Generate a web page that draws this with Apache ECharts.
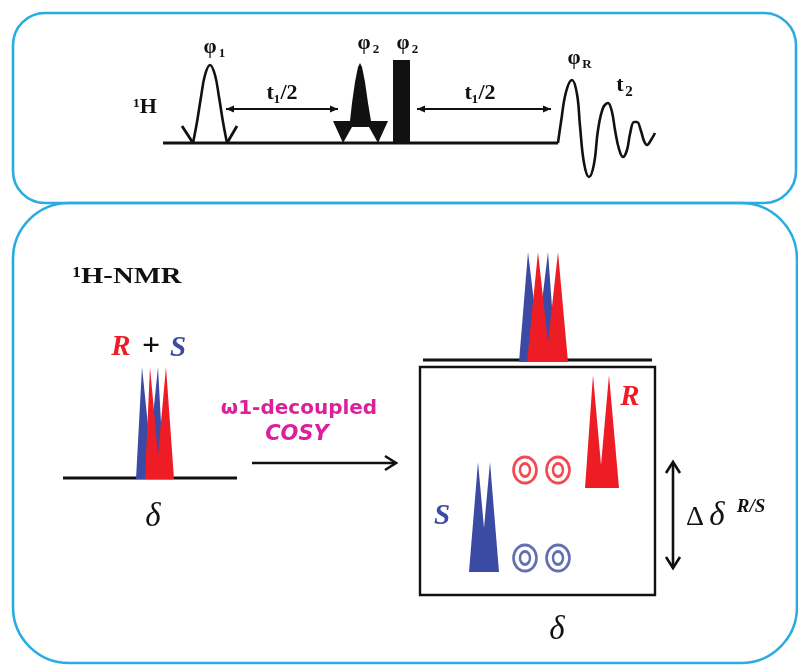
<!DOCTYPE html>
<html><head><meta charset="utf-8">
<script src="https://cdn.jsdelivr.net/npm/echarts@6/dist/echarts.min.js"></script>
<style>html,body{margin:0;padding:0;background:#fff}#c{width:798px;height:666px}</style>
</head><body><div id="c"></div>
<script>
// ---------- data (diagram coordinates, x right, y down) ----------
const panels = [[13,13,796,203,32],[13,203,797,663,56]];
const straightLines = [
  [[163,143],[558,143]],   // pulse sequence baseline
  [[182,126],[193,143]],   // phi1 side lobe left
  [[227,143],[237,126]],   // phi1 side lobe right
  [[63,478],[237,478]],    // 1D spectrum baseline
  [[423,360],[652,360]]    // projection baseline
];
const boxes2D = [[420,367,655,595]];
const pulsePhi1 = [[193,143],[197,122],[201,97],[205,75],[210,65],[215,75],[219,97],[223,122],[227,143]];
const fid = [[558,143],[561,122],[566,92],[572,80],[577,94],[580,126],[584,163],[589,177],[594,164],[598,130],[603,108],[608,103],[612,112],[615,130],[619,149],[623,157],[627,150],[630,134],[634,122],[637,122],[641,131],[644,141],[647,145],[651,140],[655,133]];
const filledShapes = [
  // shaped phi2 pulse
  {c:'#111', p:[[333,121],[350,121],[352,103],[355,82],[358,67],[360,63],[362,67],[365,82],[368,103],[371,121],[388,121],[378,143],[369,127],[352,127],[343,143]]},
  // hard phi2 pulse
  {c:'#111', p:[[393,60],[410,60],[410,143],[393,143]]},
  // 1D spectrum: S then R
  {c:'#3b4ba3', p:[[136,479],[142,367],[150,445],[158,367],[164,479]]},
  {c:'#ee1d25', p:[[145,479],[150,367],[158,455],[166,367],[174,479]]},
  // projection: S then R
  {c:'#3b4ba3', p:[[519,362],[528,252],[538,335],[548,252],[556,362]]},
  {c:'#ee1d25', p:[[527,362],[538,252],[548,343],[558,252],[568,362]]},
  // diagonal peaks
  {c:'#ee1d25', p:[[585,488],[593,375],[601,465],[609,375],[619,488]]},
  {c:'#3b4ba3', p:[[469,572],[478,462],[484,528],[490,462],[499,572]]}
];
const crossPeaksR = [[525,470],[558,470]];
const crossPeaksS = [[525,558],[558,558]];
const arrowsSmall = [[[226,109],[338,109],1],[[417,109],[551,109],1]];
const arrowsBig = [[[252,463],[396,463],0],[[673,462],[673,568],1]];
const labels = [
  ['¹H',145,107,'seq'],
  ['t₁/2',282,93,'seq'],['t₁/2',480,93,'seq'],
  ['φ',210,48,'phi'],['1',222,54,'sub'],
  ['φ',364,44,'phi'],['2',376,50,'sub'],
  ['φ',403,44,'phi'],['2',415,50,'sub'],
  ['φ',574,59,'phi'],['R',587,65,'sub'],
  ['t',620,85,'seq'],['2',629,92,'sub2'],
  ['¹H-NMR',127,277,'hnmr'],
  ['R',121,348,'R'],['+',151,347,'plus'],['S',178,349,'S'],
  ['δ',153,517,'delta'],
  ['ω1-decoupled',299,409,'mag'],['COSY',297,435,'mag2'],
  ['R',630,398,'R'],['S',442,517,'S'],
  ['Δ',695,518,'Delta'],['δ',717,516,'delta'],['R/S',751,507,'sup'],
  ['δ',557,630,'delta']
];

const serif = '"Liberation Serif","DejaVu Serif",serif';
const textStyles = {
  seq:{font:'bold 22px '+serif,fill:'#111'},
  phi:{font:'bold 21px '+serif,fill:'#111'},
  sub:{font:'bold 13px '+serif,fill:'#111'},
  sub2:{font:'bold 15px '+serif,fill:'#111'},
  hnmr:{font:'bold 23px '+serif,fill:'#111',sx:1.25},
  R:{font:'bold italic 29px '+serif,fill:'#ee1d25'},
  S:{font:'bold italic 29px '+serif,fill:'#3b4ba3'},
  plus:{font:'bold 32px '+serif,fill:'#111'},
  delta:{font:'italic 33px '+serif,fill:'#111'},
  Delta:{font:'28px '+serif,fill:'#111'},
  sup:{font:'bold italic 19px '+serif,fill:'#111'},
  mag:{font:'bold 20px "DejaVu Sans",sans-serif',fill:'#dc1f9b'},
  mag2:{font:'italic bold 21px "DejaVu Sans",sans-serif',fill:'#dc1f9b'}
};

const chart = echarts.init(document.getElementById('c'), null, {renderer:'canvas'});
const idx = arr => arr.map((_, i) => [i, 0]);

function headEl(tip, from, filled, len, hw, color, lw) {
  const dx = tip[0]-from[0], dy = tip[1]-from[1];
  const L = Math.hypot(dx, dy), ux = dx/L, uy = dy/L;
  const bx = tip[0]-ux*len, by = tip[1]-uy*len;
  const a = [bx-uy*hw, by+ux*hw], b = [bx+uy*hw, by-ux*hw];
  if (filled) return {type:'polygon', shape:{points:[tip,a,b]}, style:{fill:color}};
  return {type:'polyline', shape:{points:[a,tip,b]}, style:{stroke:color, lineWidth:lw, fill:null}};
}
function arrowRender(list, filled, len, hw, lw) {
  return function(params, api) {
    const d = list[params.dataIndex];
    const p1 = api.coord(d[0]), p2 = api.coord(d[1]);
    const ch = [{type:'line', shape:{x1:p1[0],y1:p1[1],x2:p2[0],y2:p2[1]}, style:{stroke:'#111', lineWidth:lw}}];
    ch.push(headEl(p2, p1, filled, len, hw, '#111', lw));
    if (d[2]) ch.push(headEl(p1, p2, filled, len, hw, '#111', lw));
    return {type:'group', children:ch};
  };
}

const option = {
  animation:false,
  backgroundColor:'#fff',
  grid:{left:0,right:0,top:0,bottom:0},
  xAxis:{type:'value',min:0,max:798,show:false},
  yAxis:{type:'value',min:0,max:666,inverse:true,show:false},
  series:[
    {type:'custom', data:idx(panels), silent:true, z:1,
     renderItem:(params, api) => {
       const d = panels[params.dataIndex];
       const a = api.coord([d[0],d[1]]), b = api.coord([d[2],d[3]]);
       return {type:'rect', shape:{x:a[0],y:a[1],width:b[0]-a[0],height:b[1]-a[1],r:d[4]}, style:{fill:null, stroke:'#2aace2', lineWidth:2.6}};
     }},
    {type:'custom', data:idx(straightLines), silent:true, z:2,
     renderItem:(params, api) => {
       const d = straightLines[params.dataIndex];
       const a = api.coord(d[0]), b = api.coord(d[1]);
       return {type:'line', shape:{x1:a[0],y1:a[1],x2:b[0],y2:b[1]}, style:{stroke:'#111', lineWidth:2.8}};
     }},
    {type:'custom', data:idx(boxes2D), silent:true, z:2,
     renderItem:(params, api) => {
       const d = boxes2D[params.dataIndex];
       const a = api.coord([d[0],d[1]]), b = api.coord([d[2],d[3]]);
       return {type:'rect', shape:{x:a[0],y:a[1],width:b[0]-a[0],height:b[1]-a[1]}, style:{fill:null, stroke:'#111', lineWidth:2.4}};
     }},
    {type:'line', data:pulsePhi1, smooth:0.4, symbol:'none', z:3, lineStyle:{color:'#111', width:2.6}},
    {type:'line', data:fid, smooth:0.4, symbol:'none', z:3, lineStyle:{color:'#111', width:2.6}},
    {type:'custom', data:idx(filledShapes), silent:true, z:4,
     renderItem:(params, api) => {
       const d = filledShapes[params.dataIndex];
       return {type:'polygon', shape:{points:d.p.map(p => api.coord(p))}, style:{fill:d.c}};
     }},
    {type:'scatter', data:crossPeaksR, symbol:'circle', symbolSize:[23,26], z:5, itemStyle:{color:'rgba(0,0,0,0)', borderColor:'#ee1d25', borderWidth:2.8}},
    {type:'scatter', data:crossPeaksR, symbol:'circle', symbolSize:[10,13], z:5, itemStyle:{color:'rgba(0,0,0,0)', borderColor:'#ee1d25', borderWidth:2.8}},
    {type:'scatter', data:crossPeaksS, symbol:'circle', symbolSize:[23,26], z:5, itemStyle:{color:'rgba(0,0,0,0)', borderColor:'#3b4ba3', borderWidth:2.8}},
    {type:'scatter', data:crossPeaksS, symbol:'circle', symbolSize:[10,13], z:5, itemStyle:{color:'rgba(0,0,0,0)', borderColor:'#3b4ba3', borderWidth:2.8}},
    {type:'custom', data:idx(arrowsSmall), silent:true, z:5, renderItem:arrowRender(arrowsSmall, true, 8, 3.5, 1.8)},
    {type:'custom', data:idx(arrowsBig), silent:true, z:5, renderItem:arrowRender(arrowsBig, false, 11, 7, 2.6)},
    {type:'custom', data:idx(labels), silent:true, z:6,
     renderItem:(params, api) => {
       const d = labels[params.dataIndex];
       const st = textStyles[d[3]];
       const p = api.coord([d[1], d[2]]);
       return {type:'text', x:p[0], y:p[1], scaleX:st.sx||1,
               style:{text:d[0], x:0, y:0, font:st.font, fill:st.fill, align:'center', verticalAlign:'middle'}};
     }}
  ]
};
chart.setOption(option);
</script>
</body></html>
